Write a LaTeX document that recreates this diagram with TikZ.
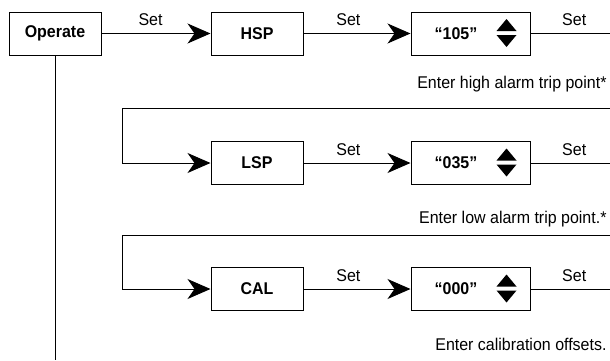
\documentclass[tikz,border=0pt]{standalone}
\usepackage{fontspec}
\setmainfont{Liberation Sans}[FakeStretch=0.94]
\usetikzlibrary{positioning, arrows.meta}
\tikzstyle{menu}=[rectangle, draw=black, line width=1pt, minimum width=92pt, minimum height=43pt, font=\fontsize{17}{20}\selectfont\bfseries]
\tikzstyle{value}=[menu, minimum width=119pt]
\tikzstyle{note}=[anchor=base east, inner sep=0pt]
\tikzstyle{lbl}=[above=4pt]
\newcommand\updown[1]{%
  \fill ([shift={(-34,2.5)}]#1.east) -- ++(20,0) -- ++(-10,12) -- cycle;
  \fill ([shift={(-34,-1.5)}]#1.east) -- ++(20,0) -- ++(-10,-12) -- cycle;}

\begin{document}
\begin{tikzpicture}[x=1pt, y=1pt, line width=1pt, >={Stealth[length=23pt,width=20pt,inset=7pt]}, font=\fontsize{17}{20}\selectfont]
  \useasboundingbox (0,0) rectangle (610,360);
  %Operate menu with the three set-up rows
  \node[menu](op) at (55,326.5){Operate};
  \coordinate (bot) at (55,0);
  \draw (op) -- (bot);
  \foreach \n/\name/\val/\y/\ty/\txt in {1/HSP/105/326.5/272/{Enter high alarm trip point*},
      2/LSP/035/197/137/{Enter low alarm trip point.*},
      3/CAL/000/71/10/{Enter calibration offsets.}}{
    \node[menu](m\n) at (257,\y){\name};
    \node[value, right = 107pt of m\n](v\n){“\val”\kern29pt};
    \updown{v\n}
    \coordinate (e\n) at (610,\y);
    \draw[->] (m\n) to node[lbl, pos=.42]{Set} (v\n);
    \draw (v\n) to node[lbl, pos=.55]{Set} (e\n);
    \node[note](t\n) at (607,\ty){\txt};
  }
  \draw[->] (op) to node[lbl, pos=.45]{Set} (m1);
  \foreach \n/\wy in {2/252,3/125}{
    \coordinate (w\n) at (610,\wy);
    \coordinate (c\n) at (122,\wy);
    \draw[->] (w\n) -- (c\n) |- (m\n.west);
  }
\end{tikzpicture}
\end{document}
